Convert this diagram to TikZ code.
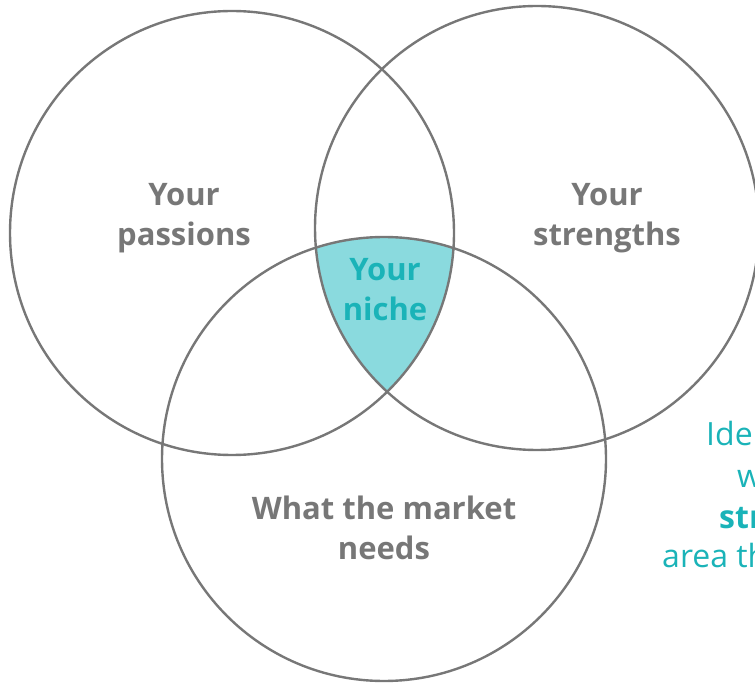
\documentclass[tikz,border=0pt]{standalone}
\usepackage{fontspec}
\setmainfont{Open Sans}
\definecolor{ringgray}{HTML}{777777}
\definecolor{nichefill}{HTML}{8ADADE}
\definecolor{teal}{HTML}{1AB3B8}
\usetikzlibrary{positioning}

\begin{document}
\begin{tikzpicture}[x=1pt, y=-1pt,
    ring/.style={draw=ringgray, line width=2.4pt, circle, minimum size=444pt, inner sep=0pt},
    lbl/.style={text=ringgray, font=\bfseries\fontsize{31}{40}\selectfont, align=center},
    hint/.style={text=teal, font=\fontsize{32}{40}\selectfont, anchor=base west, inner sep=0pt}]
\useasboundingbox (0,0) rectangle (755,684);
\clip (0,0) rectangle (755,684);

% shaded centre where all three overlap
\begin{scope}
    \clip (232,233) circle[radius=222];
    \clip (537,228) circle[radius=222];
    \fill[nichefill] (384,459) circle[radius=222];
\end{scope}

\node[ring] (passions) at (232,233) {};
\node[ring] (strengths) at (537,228) {};
\node[ring] (market) at (384,459) {};

\node[lbl] (passionstxt) at (184,218) {Your\\passions};
\node[lbl] (strengthstxt) at (607,218) {Your\\strengths};
\node[lbl] (markettxt) at (384,528) {What the market\\needs};
\node[lbl, text=teal] (nichetxt) at (385,290) {Your\\niche};

% text running off the right edge
\node[hint] (l1) at (706,446) {Ide};
\node[hint] (l2) at (737,487) {w};
\node[hint, font=\bfseries\fontsize{32}{40}\selectfont] (l3) at (719,528) {str};
\node[hint] (l4) at (662,567) {area th};
\end{tikzpicture}
\end{document}
